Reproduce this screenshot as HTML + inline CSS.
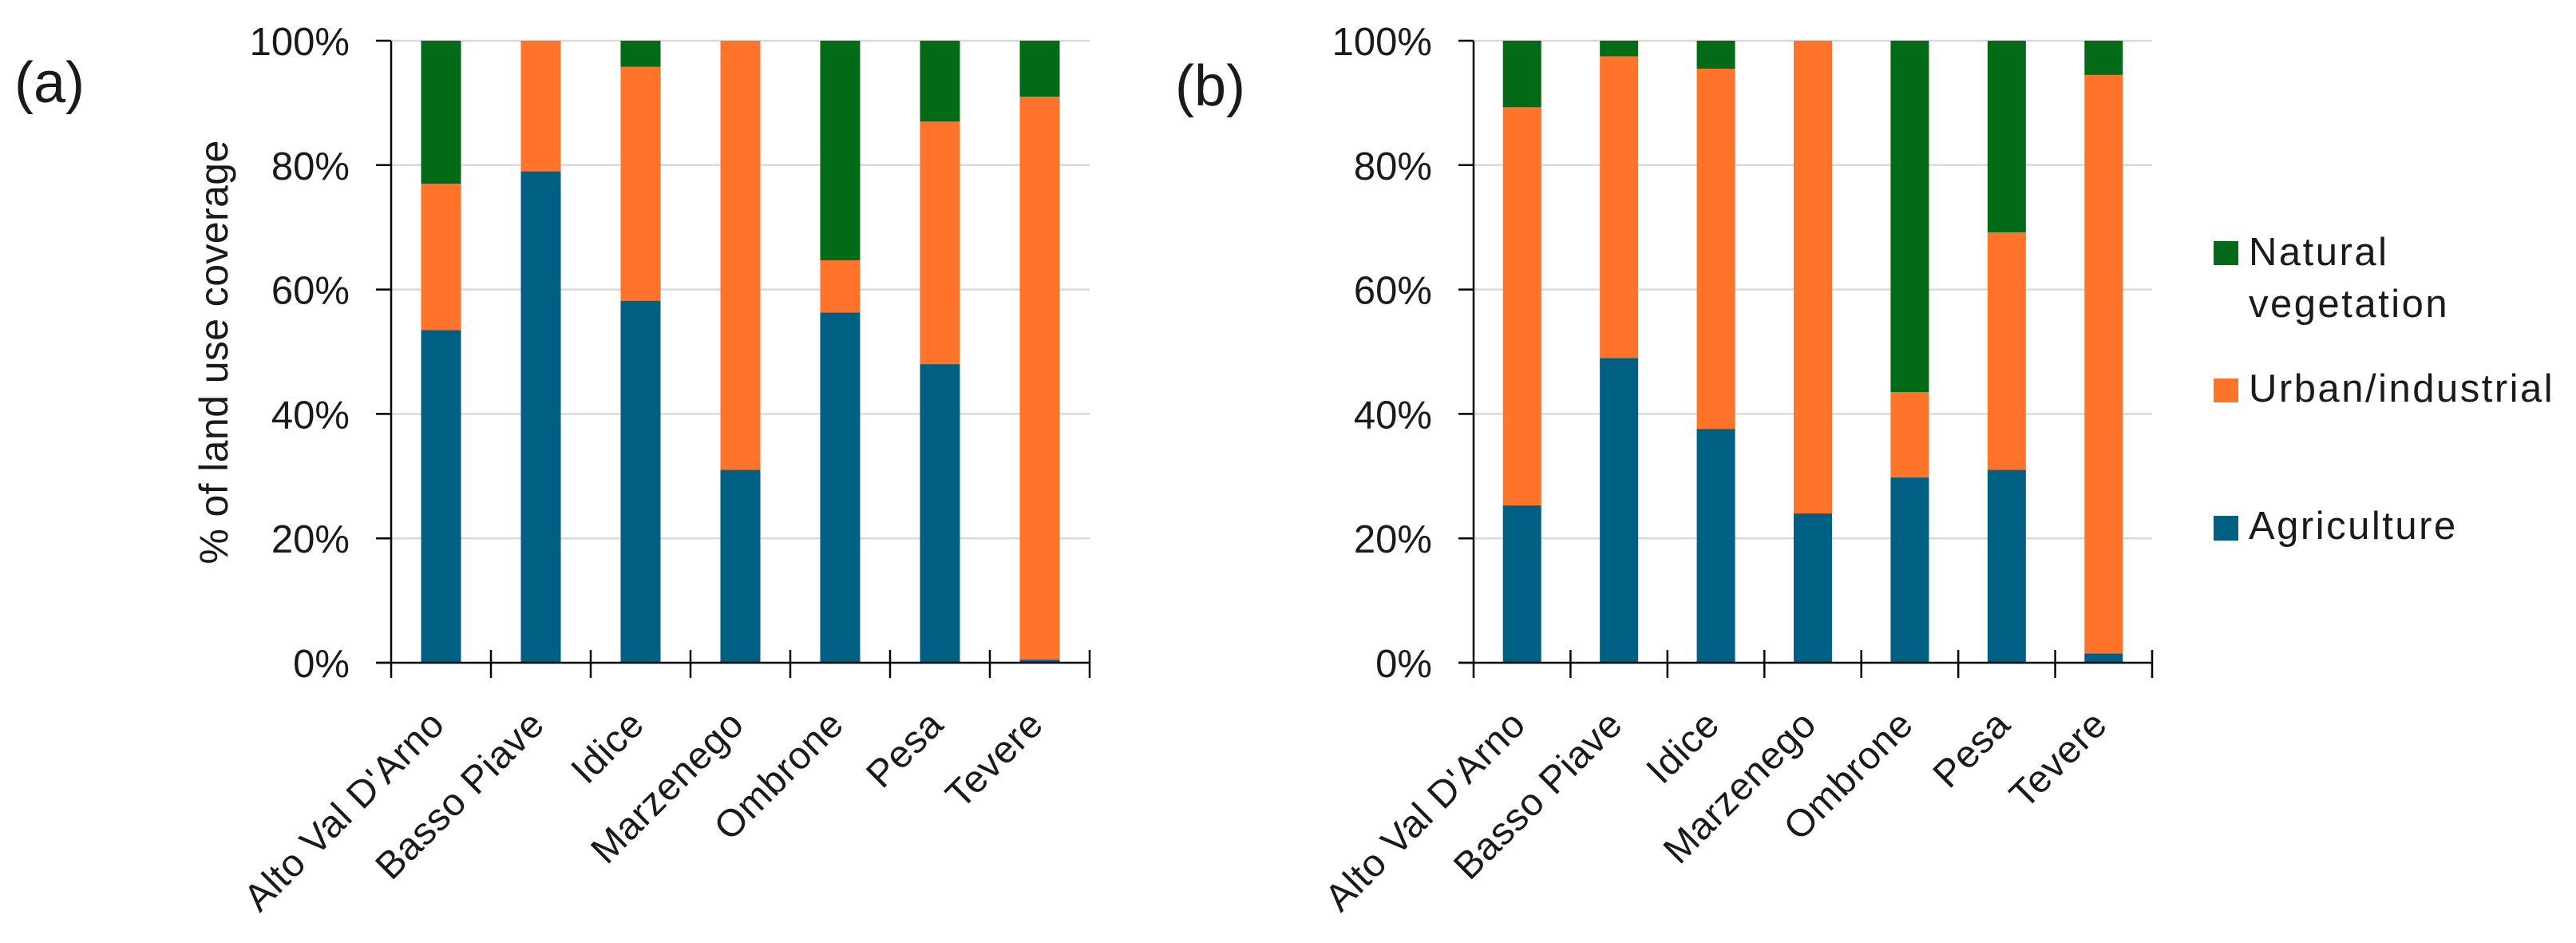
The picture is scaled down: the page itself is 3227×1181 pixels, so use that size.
<!DOCTYPE html>
<html>
<head>
<meta charset="utf-8">
<title>Land use coverage</title>
<style>
html,body{margin:0;padding:0;background:#fff;width:3227px;height:1181px;overflow:hidden}
svg{display:block}
text{font-family:"Liberation Sans",sans-serif;fill:#1a1a1a}
</style>
</head>
<body>
<svg id="chart" width="3227" height="1181" viewBox="0 0 3227 1181" xmlns="http://www.w3.org/2000/svg">
  <rect width="3227" height="1181" fill="#ffffff"/>
  <text x="18" y="128" font-size="72">(a)</text>
  <text x="1472" y="132" font-size="72">(b)</text>
  <text transform="translate(285,441) rotate(-90)" text-anchor="middle" font-size="50" letter-spacing="0.4">% of land use coverage</text>
  <g>
    <g>
      <rect x="2773" y="302" width="31" height="30" fill="#036A17"/>
      <text x="2817" y="332" font-size="49" letter-spacing="2.5">Natural</text>
      <text x="2817" y="397" font-size="49" letter-spacing="2.5">vegetation</text>
    </g>
    <g>
      <rect x="2773" y="474" width="31" height="30" fill="#FF732B"/>
      <text x="2817" y="503" font-size="49" letter-spacing="2.5">Urban/industrial</text>
    </g>
    <g>
      <rect x="2773" y="646" width="31" height="31" fill="#006083"/>
      <text x="2817" y="675" font-size="49" letter-spacing="2.5">Agriculture</text>
    </g>
  </g>
</svg>
<script>
const categories = ["Alto Val D'Arno", "Basso Piave", "Idice", "Marzenego", "Ombrone", "Pesa", "Tevere"];
const yTicks = [0, 20, 40, 60, 80, 100];
const yTickLabels = ["0%", "20%", "40%", "60%", "80%", "100%"];

const agricultureA = [53.5, 79, 58.2, 31, 56.3, 48, 0.5];
const urbanA = [23.5, 21, 37.6, 69, 8.4, 39, 90.5];
const naturalA = [23, 0, 4.2, 0, 35.3, 13, 9];

const agricultureB = [25.3, 49, 37.6, 24, 29.8, 31, 1.5];
const urbanB = [64, 48.5, 57.9, 76, 13.7, 38.2, 93];
const naturalB = [10.7, 2.5, 4.5, 0, 56.5, 30.8, 5.5];

const NS = 'http://www.w3.org/2000/svg';
const svg = document.getElementById('chart');

function make(tag, parent) {
  const el = document.createElementNS(NS, tag);
  parent.appendChild(el);
  return el;
}

function drawPanel(panelId, series, left, right, labelRight, barWidth) {
  const top = 51;
  const bottom = 830;
  const yScale = function (v) { return bottom - (v / 100) * (bottom - top); };
  const band = (right - left) / categories.length;
  const xCenter = function (i) { return left + band * (i + 0.5); };

  const group = make('g', svg);
  
  

  yTicks.forEach(function (t, i) {
    if (t !== 0) {
      const grid = make('line', group);
      
      
      grid.setAttribute('x1', left);
      grid.setAttribute('x2', right);
      grid.setAttribute('y1', yScale(t));
      grid.setAttribute('y2', yScale(t));
      grid.setAttribute('stroke', '#d9d9d9');
      grid.setAttribute('stroke-width', '2.5');
    }
    const tickLabel = make('text', group);
    
    
    tickLabel.setAttribute('x', labelRight);
    tickLabel.setAttribute('y', yScale(t) + 18);
    tickLabel.setAttribute('text-anchor', 'end');
    tickLabel.setAttribute('font-size', '49');
    tickLabel.textContent = yTickLabels[i];
  });

  categories.forEach(function (name, i) {
    let base = 0;
    series.forEach(function (s) {
      const value = s.values[i];
      const bar = make('rect', group);
      
      
      bar.setAttribute('x', xCenter(i) - barWidth / 2);
      bar.setAttribute('width', barWidth);
      bar.setAttribute('y', yScale(base + value));
      bar.setAttribute('height', Math.max(0, yScale(base) - yScale(base + value)));
      bar.setAttribute('fill', s.color);
      base += value;
    });
    const label = make('text', group);
    
    
    label.setAttribute('transform', 'translate(' + (xCenter(i) + 7) + ',910) rotate(-45)');
    label.setAttribute('text-anchor', 'end');
    label.setAttribute('font-size', '48');
    label.setAttribute('letter-spacing', '0.7');
    label.textContent = name;
  });

  const yAxis = make('line', group);
  
  
  yAxis.setAttribute('x1', left);
  yAxis.setAttribute('x2', left);
  yAxis.setAttribute('y1', top);
  yAxis.setAttribute('y2', 849);
  yAxis.setAttribute('stroke', '#000');
  yAxis.setAttribute('stroke-width', '2.5');

  const xAxis = make('line', group);
  
  
  xAxis.setAttribute('x1', left - 19);
  xAxis.setAttribute('x2', right);
  xAxis.setAttribute('y1', bottom);
  xAxis.setAttribute('y2', bottom);
  xAxis.setAttribute('stroke', '#000');
  xAxis.setAttribute('stroke-width', '2.5');

  yTicks.forEach(function (t) {
    const yt = make('line', group);
    
    
    yt.setAttribute('x1', left - 19);
    yt.setAttribute('x2', left);
    yt.setAttribute('y1', yScale(t));
    yt.setAttribute('y2', yScale(t));
    yt.setAttribute('stroke', '#000');
    yt.setAttribute('stroke-width', '2.5');
  });

  for (let i = 1; i <= categories.length; i++) {
    const xt = make('line', group);
    
    
    xt.setAttribute('x1', left + band * i);
    xt.setAttribute('x2', left + band * i);
    xt.setAttribute('y1', 814);
    xt.setAttribute('y2', 849);
    xt.setAttribute('stroke', '#000');
    xt.setAttribute('stroke-width', '2.5');
  }
}

drawPanel('a', [
  { key: 'agriculture', values: agricultureA, color: '#006083' },
  { key: 'urban', values: urbanA, color: '#FF732B' },
  { key: 'natural', values: naturalA, color: '#036A17' }
], 490, 1365, 438, 50);

drawPanel('b', [
  { key: 'agriculture', values: agricultureB, color: '#006083' },
  { key: 'urban', values: urbanB, color: '#FF732B' },
  { key: 'natural', values: naturalB, color: '#036A17' }
], 1846, 2696, 1794, 48);
</script>
</body>
</html>
